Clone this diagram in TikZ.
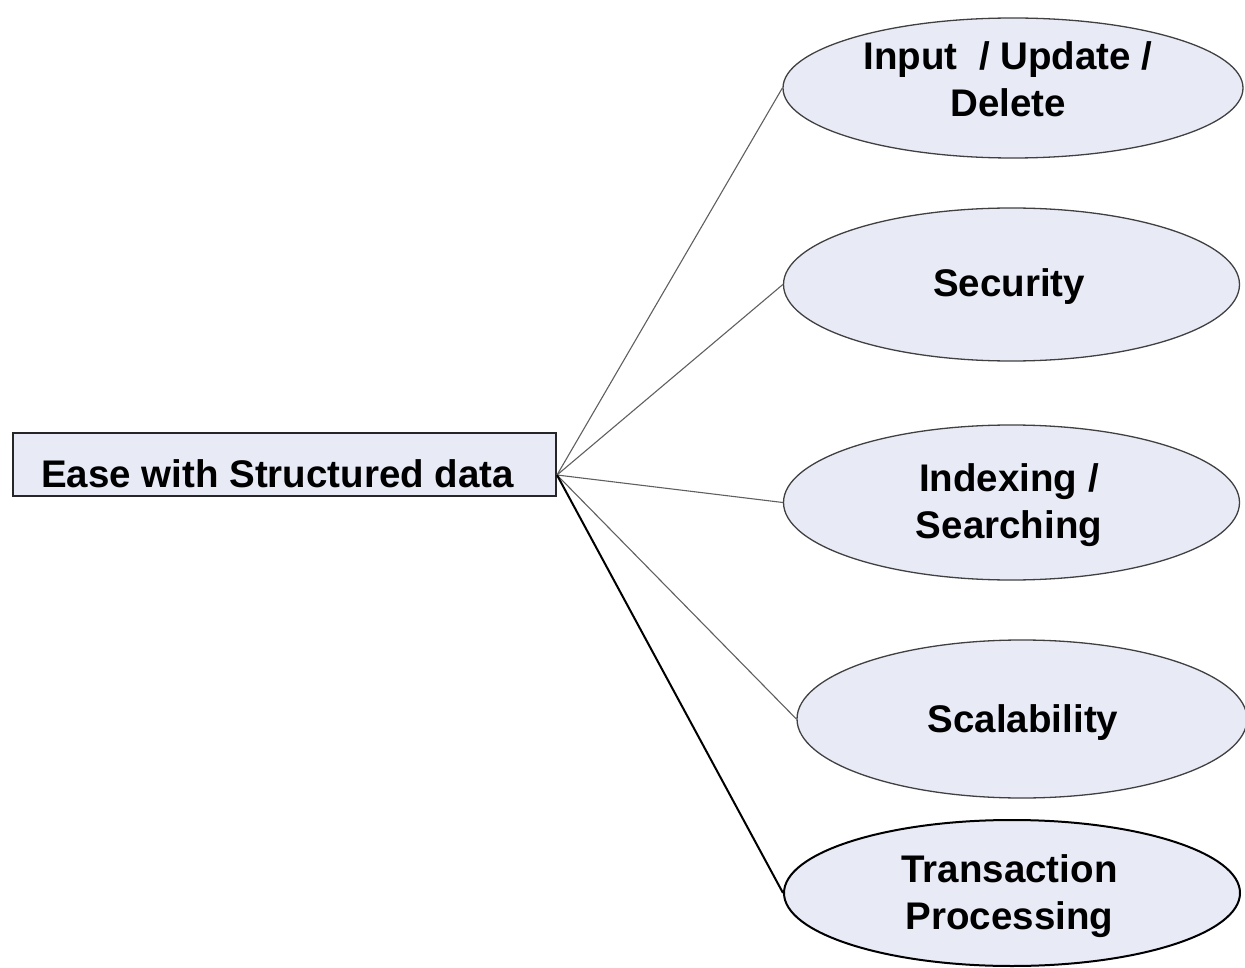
\documentclass[tikz,border=0pt]{standalone}
\usepackage{fontspec}
\setmainfont{Liberation Sans}
\usetikzlibrary{shapes.geometric}
\definecolor{paleblue}{RGB}{232,234,246}
\definecolor{rimgray}{RGB}{64,64,64}
\definecolor{wiregray}{RGB}{95,95,95}
\begin{document}
\begin{tikzpicture}[x=1pt,y=-1pt,
  lbl/.style={font=\bfseries\fontsize{38.5}{47}\selectfont, align=center, inner sep=0pt},
  topic/.style={ellipse, draw=rimgray, line width=1.3pt, fill=paleblue, inner sep=0pt},
  keytopic/.style={topic, draw=black, line width=2pt},
  rootbox/.style={rectangle, draw=black!85, line width=2pt, fill=paleblue, inner sep=0pt},
  wire/.style={draw=wiregray, line width=1.1pt},
  keywire/.style={draw=black, line width=2pt},
]
\useasboundingbox (0,0) rectangle (1245,968);

% central box
\node[rootbox, minimum width=543pt, minimum height=63pt] (root) at (284,464.5) {};
\node[lbl, anchor=base] (roottext) at (277.5,487) {Ease with Structured data};
\coordinate (hub) at (557,475);

% topic ellipses
\node[topic, minimum width=460pt, minimum height=140pt] (e1) at (1013,88) {};
\node[topic, minimum width=456pt, minimum height=153pt] (e2) at (1011.5,284.5) {};
\node[topic, minimum width=456pt, minimum height=155pt] (e3) at (1011.5,502.5) {};
\node[topic, minimum width=450pt, minimum height=158pt] (e4) at (1022,719) {};
\node[keytopic, minimum width=456pt, minimum height=146pt] (e5) at (1012,893) {};

% topic labels
\node[lbl] (t1) at (1008,79) {Input~~/ Update /\\Delete};
\node[lbl, anchor=base] (t2) at (1009,297) {Security};
\node[lbl] (t3) at (1009,505) {Indexing /\\Searching};
\node[lbl, anchor=base] (t4) at (1023,732) {Scalability};
\node[lbl] (t5) at (1009.5,896) {Transaction\\Processing};

% connectors
\draw[wire] (hub) -- (e1.west);
\draw[wire] (hub) -- (e2.west);
\draw[wire] (hub) -- (e3.west);
\draw[wire] (hub) -- (e4.west);
\draw[keywire] (hub) -- (e5.west);
\end{tikzpicture}
\end{document}
